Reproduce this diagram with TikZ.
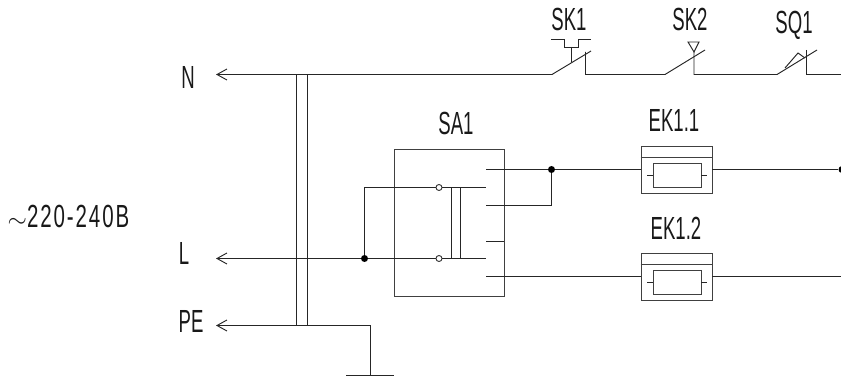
\documentclass[tikz,border=0pt]{standalone}
\usepackage{fontspec}
\setmainfont[FakeStretch=0.58]{Liberation Sans}
\newfontfamily\supplyfont[FakeStretch=0.64, LetterSpace=6]{Liberation Sans}
\usetikzlibrary{arrows.meta, positioning}

\tikzset{
    wire/.style={line width=0.95pt, draw=black!85},
    label/.style={inner sep=0pt, font=\fontsize{32}{33}\selectfont, text=black!90},
    junction/.style={circle, fill=black, inner sep=0pt, minimum size=7pt},
    terminal/.style={circle, draw=black!80, fill=white, line width=0.9pt, inner sep=0pt, minimum size=6pt},
    box/.style={draw=black!75, line width=0.95pt, inner sep=0pt},
    feed/.style={wire, {Straight Barb[length=10pt, width=11pt, line width=0.95pt]}-}
}

\begin{document}
\begin{tikzpicture}[x=1pt, y=-1pt]
    \useasboundingbox (0,0) rectangle (841,377);
    % labels
    \node[label] (lN) at (188,77) {N};
    \node[label] (lL) at (184,253.5) {L};
    \node[label] (lPE) at (191,321.5) {PE};
    \node[label] (lsupply) at (68.5,216.5) {$\sim$\supplyfont 220-240В};
    \node[label] (lSA) at (456,123.5) {SA1};
    \node[label] (lEKa) at (674,120) {EK1.1};
    \node[label] (lEKb) at (676,228) {EK1.2};
    \node[label] (lSKa) at (569,19) {SK1};
    \node[label] (lSKb) at (690,19) {SK2};
    \node[label] (lSQ) at (794,25) {SQ1};

    % switch block
    \node[box, minimum width=110pt, minimum height=147pt] (SA) at (449,222.5) {};
    \coordinate (aout) at (486,169.5);
    \coordinate (bout) at (486,187.5);
    \coordinate (cout) at (486,205.5);
    \coordinate (dout) at (486,241.5);
    \coordinate (eout) at (486,258.5);
    \coordinate (fout) at (486,276.5);
    \coordinate (dedge) at (504,241.5);

    % heaters
    \foreach \name/\py in {EKa/169.5, EKb/276.5}{
        \node[box, minimum width=71pt, minimum height=47pt] (\name) at (676.5,\py) {};
        \node[box, minimum width=48pt, minimum height=24pt] (\name i) at (677,\py+6) {};
        \draw[box] (\name.west |- 0,\py-12) -- (\name.east |- 0,\py-12);
        \draw[wire] (\name i.west) -- ++(-6,0);
        \draw[wire] (\name i.east) -- ++(6,0);
    }

    % supply lines
    \coordinate (Nend) at (216,74.5);
    \coordinate (Lend) at (216,258.5);
    \coordinate (PEend) at (216,325.5);
    \coordinate (PEgnd) at (370.5,325.5);
    \coordinate (gnd) at (370.5,375);
    \coordinate (gl) at (346,375);
    \coordinate (gr) at (394,375);
    \coordinate (busl) at (296.5,74.5);
    \coordinate (busr) at (307.5,74.5);
    \coordinate (busbl) at (296.5,325.5);
    \coordinate (busbr) at (307.5,325.5);
    \node[junction] (Ldot) at (364.5,258.5) {};
    \node[junction] (Adot) at (551.5,169.5) {};
    \coordinate (Ltop) at (364.5,187.5);
    \coordinate (ccorner) at (551.5,205.5);
    \node[terminal] (ta) at (439,187.5) {};
    \node[terminal] (tb) at (439,258.5) {};
    \coordinate (bara) at (451.5,187.5);
    \coordinate (barb) at (460.5,187.5);
    \coordinate (barc) at (451.5,258.5);
    \coordinate (bard) at (460.5,258.5);

    \draw[wire] (busl) -- (busbl);
    \draw[wire] (busr) -- (busbr);
    \draw[feed] (PEend) -- (PEgnd);
    \draw[wire] (PEgnd) -- (gnd);
    \draw[wire] (gl) -- (gr);
    \draw[feed] (Lend) -- (Ldot);
    \draw[wire] (Ldot) -- (tb);
    \draw[wire] (tb) -- (eout);
    \draw[wire] (Ldot) -- (Ltop) -- (ta);
    \draw[wire] (ta) -- (bout);
    \draw[wire] (bara) -- (barc);
    \draw[wire] (barb) -- (bard);
    \draw[wire] (aout) -- (Adot) -- (EKa.west);
    \draw[wire] (cout) -- (ccorner) -- (Adot);
    \draw[wire] (dout) -- (dedge);
    \draw[wire] (fout) -- (EKb.west);
    \node[junction] (EKaend) at (842,169.5) {};
    \coordinate (EKbend) at (841,276.5);
    \draw[wire] (EKa.east) -- (EKaend);
    \draw[wire] (EKb.east) -- (EKbend);

    % contacts along N
    \coordinate (SKaopen) at (552,74.5);
    \coordinate (SKaend) at (591,51);
    \coordinate (SKafix) at (585.5,74.5);
    \coordinate (SKatop) at (585.5,52);
    \coordinate (SKbopen) at (665,74.5);
    \coordinate (SKbend) at (705,50);
    \coordinate (SKbfix) at (694,74.5);
    \coordinate (SKbtop) at (694,52);
    \coordinate (SQopen) at (777,74.5);
    \coordinate (SQend) at (817,50);
    \coordinate (SQfix) at (806,74.5);
    \coordinate (SQtop) at (806,50);
    \coordinate (Nright) at (841,74.5);
    \draw[feed] (Nend) -- (SKaopen);
    \draw[wire] (SKaopen) -- (SKaend);
    \draw[wire] (SKatop) -- (SKafix) -- (SKbopen) -- (SKbend);
    \draw[wire] (SKbtop) -- (SKbfix) -- (SQopen) -- (SQend);
    \draw[wire] (SQtop) -- (SQfix) -- (Nright);
    % SK1 push head
    \draw[wire] (551,39) -- (564,39) -- (564,47) -- (578,47) -- (578,39) -- (591,39);
    \draw[wire] (571,47) -- (571,62);
    % SK2 triangle
    \draw[wire] (688,42) -- (699,42) -- (694,52) -- cycle;
    % SQ1 wedge
    \draw[wire] (785,68) -- (798,53) -- (805,58);
\end{tikzpicture}
\end{document}
